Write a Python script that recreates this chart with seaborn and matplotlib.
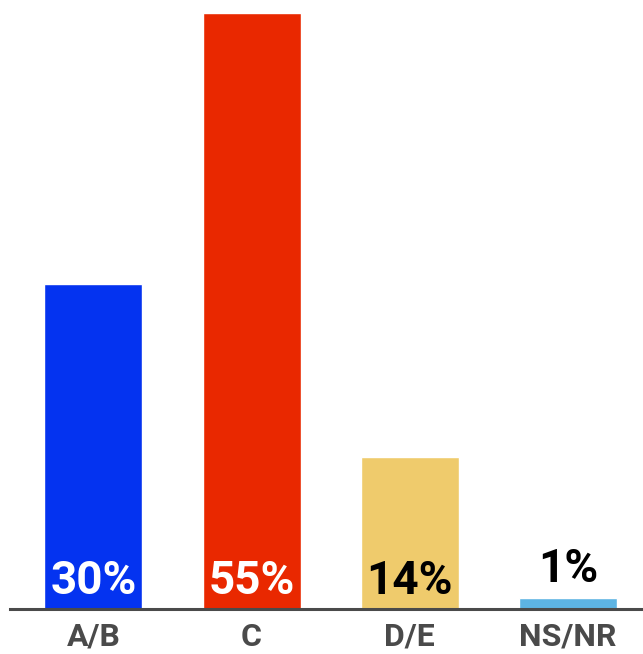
import matplotlib
matplotlib.use("Agg")
import matplotlib.pyplot as plt
import seaborn as sns
import pandas as pd

# data
categories = ['A/B', 'C', 'D/E', 'NS/NR']
values = [30, 55, 14, 1]
labels = ['30%', '55%', '14%', '1%']
colors = ['#0433F0', '#E92800', '#EFCB6C', '#5DB4E3']
label_colors = ['white', 'white', 'black', 'black']

sns.set_style('white')
plt.rcParams['font.family'] = ['Roboto', 'DejaVu Sans']

df = pd.DataFrame({'cat': categories, 'val': values})

fig = plt.figure(figsize=(6.43, 6.54), dpi=100)
ax = fig.add_axes([10 / 643, 45 / 654, 1 - 10 / 643, 609 / 654])

sns.barplot(data=df, x='cat', y='val', hue='cat', palette=colors,
            width=0.62, legend=False, ax=ax, saturation=1)

ax.set_xlim(-0.527, 3.474)
ax.set_ylim(0, 56.2)

# value labels
for i, (v, lab, c) in enumerate(zip(values, labels, label_colors)):
    if v > 5:
        ax.text(i, 2.6, lab, ha='center', va='center', fontsize=33,
                fontweight='bold', color=c)
    else:
        ax.text(i, v + 2.7, lab, ha='center', va='center', fontsize=33,
                fontweight='bold', color=c)

for s in ['top', 'right', 'left']:
    ax.spines[s].set_visible(False)
ax.spines['bottom'].set_color('#4a4a4a')
ax.spines['bottom'].set_linewidth(2.2)

ax.set_yticks([])
ax.set_xlabel('')
ax.set_ylabel('')
ax.tick_params(axis='x', length=0, pad=9, labelsize=23, labelcolor='#4a4a4a')
for t in ax.get_xticklabels():
    t.set_fontweight('bold')

fig.savefig('out.png', dpi=100)
